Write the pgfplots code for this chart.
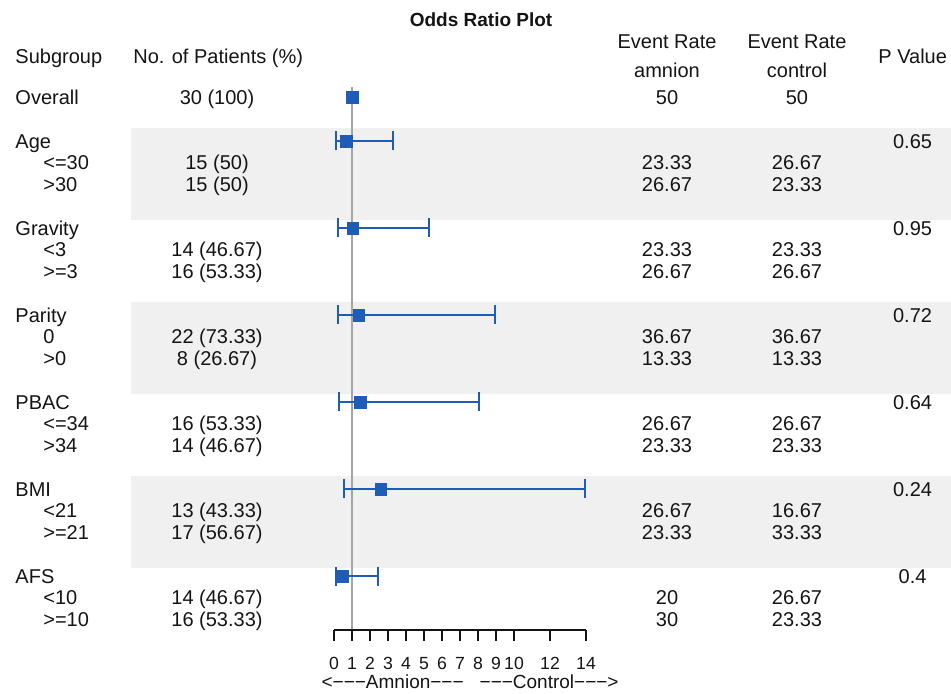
\documentclass[border=0pt]{standalone}
\usepackage{pgfplots}
\pgfplotsset{compat=1.18}
\usepackage{pgfplotstable}
\usepackage{fontspec}
\setmainfont{Liberation Sans}
\definecolor{fblue}{RGB}{30,92,184}
\definecolor{band}{RGB}{240,240,240}
\definecolor{refgray}{RGB}{165,165,165}
\definecolor{txt}{RGB}{20,20,20}

\pgfplotstableread{
y   or    ep     em
-2  0.67  2.63   0.56
-6  1.04  4.22   0.82
-10 1.37  7.56   1.15
-14 1.46  6.58   1.16
-18 2.59  11.35  2.03
-22 0.48  1.95   0.39
}\forestdata

\newcommand\grp[3]{%
  \node[lt] at (axis cs:-17.72,-#1) {#2};
  \node[ct] at (axis cs:32.14,-#1) {#3};}
\newcommand\sub[5]{%
  \node[lt] at (axis cs:-16.17,-#1) {#2};
  \node[ct] at (axis cs:-6.5,-#1) {#3};
  \node[ct] at (axis cs:18.5,-#1) {#4};
  \node[ct] at (axis cs:25.72,-#1) {#5};}

\begin{document}
\begin{tikzpicture}[
  lt/.style={anchor=base west, inner sep=0pt, yshift=-3.58pt, text=txt, font=\fontsize{10}{12}\selectfont},
  ct/.style={anchor=base, inner sep=0pt, yshift=-3.58pt, text=txt, font=\fontsize{10}{12}\selectfont}]
\begin{axis}[at={(0pt,0pt)}, anchor=south west, scale only axis,
  width=475.5pt, height=347pt,
  xmin=-18.556, xmax=34.278, ymin=-27.425, ymax=4.483,
  hide axis, clip=false]
% bands
\addplot[draw=none, fill=band] coordinates {(-11.278,-1.389) (34.5,-1.389) (34.5,-5.62) (-11.278,-5.62)} -- cycle;
\addplot[draw=none, fill=band] coordinates {(-11.278,-9.389) (34.5,-9.389) (34.5,-13.62) (-11.278,-13.62)} -- cycle;
\addplot[draw=none, fill=band] coordinates {(-11.278,-17.389) (34.5,-17.389) (34.5,-21.62) (-11.278,-21.62)} -- cycle;
% reference line
\addplot[refgray, line width=0.75pt] coordinates {(1,0.483) (1,-24.48)};
% overall
\addplot[only marks, mark=square*, mark size=2.9pt, mark options={fill=fblue, draw=fblue, line width=0.2pt}] coordinates {(1,0)};
% subgroups
\addplot[only marks, mark=square*, mark size=2.9pt, color=fblue,
  mark options={fill=fblue, draw=fblue, line width=0.2pt},
  error bars/.cd, x dir=both, x explicit,
  error mark=|,
  error bar style={line width=1pt, fblue},
  error mark options={line width=1pt, mark size=4.75pt, fblue}]
  table[x=or, y=y, x error plus=ep, x error minus=em] {\forestdata};
% title & headers
\node[anchor=base, inner sep=0pt, yshift=-3.4pt, text=txt, font=\bfseries\fontsize{9.5}{11}\selectfont] at (axis cs:8.17,3.563) {Odds Ratio Plot};
\node[lt] at (axis cs:-17.72,1.908) {Subgroup};
\node[lt] at (axis cs:-11.17,1.908) {No. of Patients (\%)};
\node[ct] at (axis cs:18.5,2.598) {Event Rate};
\node[ct] at (axis cs:18.5,1.264) {amnion};
\node[ct] at (axis cs:25.72,2.598) {Event Rate};
\node[ct] at (axis cs:25.72,1.264) {control};
\node[lt] at (axis cs:30.22,1.908) {P Value};
% overall row
\node[lt] at (axis cs:-17.72,0) {Overall};
\node[ct] at (axis cs:-6.5,0) {30 (100)};
\node[ct] at (axis cs:18.5,0) {50};
\node[ct] at (axis cs:25.72,0) {50};
% groups
\grp{2}{Age}{0.65}
\sub{3}{<=30}{15 (50)}{23.33}{26.67}
\sub{4}{>30}{15 (50)}{26.67}{23.33}
\grp{6}{Gravity}{0.95}
\sub{7}{<3}{14 (46.67)}{23.33}{23.33}
\sub{8}{>=3}{16 (53.33)}{26.67}{26.67}
\grp{10}{Parity}{0.72}
\sub{11}{0}{22 (73.33)}{36.67}{36.67}
\sub{12}{>0}{8 (26.67)}{13.33}{13.33}
\grp{14}{PBAC}{0.64}
\sub{15}{<=34}{16 (53.33)}{26.67}{26.67}
\sub{16}{>34}{14 (46.67)}{23.33}{23.33}
\grp{18}{BMI}{0.24}
\sub{19}{<21}{13 (43.33)}{26.67}{16.67}
\sub{20}{>=21}{17 (56.67)}{23.33}{33.33}
\grp{22}{AFS}{0.4}
\sub{23}{<10}{14 (46.67)}{20}{26.67}
\sub{24}{>=10}{16 (53.33)}{30}{23.33}
% bottom label
\node[anchor=base, inner sep=0pt, text=txt, font=\fontsize{9.5}{11}\selectfont] at (axis cs:7.56,-27.18) {<−−−Amnion−−−\hspace{8pt}−−−Control−−−>};
\end{axis}
\begin{axis}[at={(167pt,32pt)}, anchor=south west, scale only axis,
  width=126pt, height=10pt, xmin=0, xmax=14, ymin=0, ymax=1,
  axis x line*=bottom, axis y line=none,
  x axis line style={-, line width=0.55pt, txt},
  xtick={0,1,...,10,12,14}, tick align=outside, major tick length=5.5pt,
  tick style={txt, line width=0.55pt},
  xticklabel style={font=\fontsize{8.8}{10}\selectfont, text=txt, yshift=-4.5pt},
  /pgf/number format/assume math mode=true]
\addplot[draw=none] coordinates {(0,0) (14,1)};
\end{axis}
\pgfresetboundingbox
\useasboundingbox (0pt,0pt) rectangle (475.5pt,347pt);
\end{tikzpicture}
\end{document}
